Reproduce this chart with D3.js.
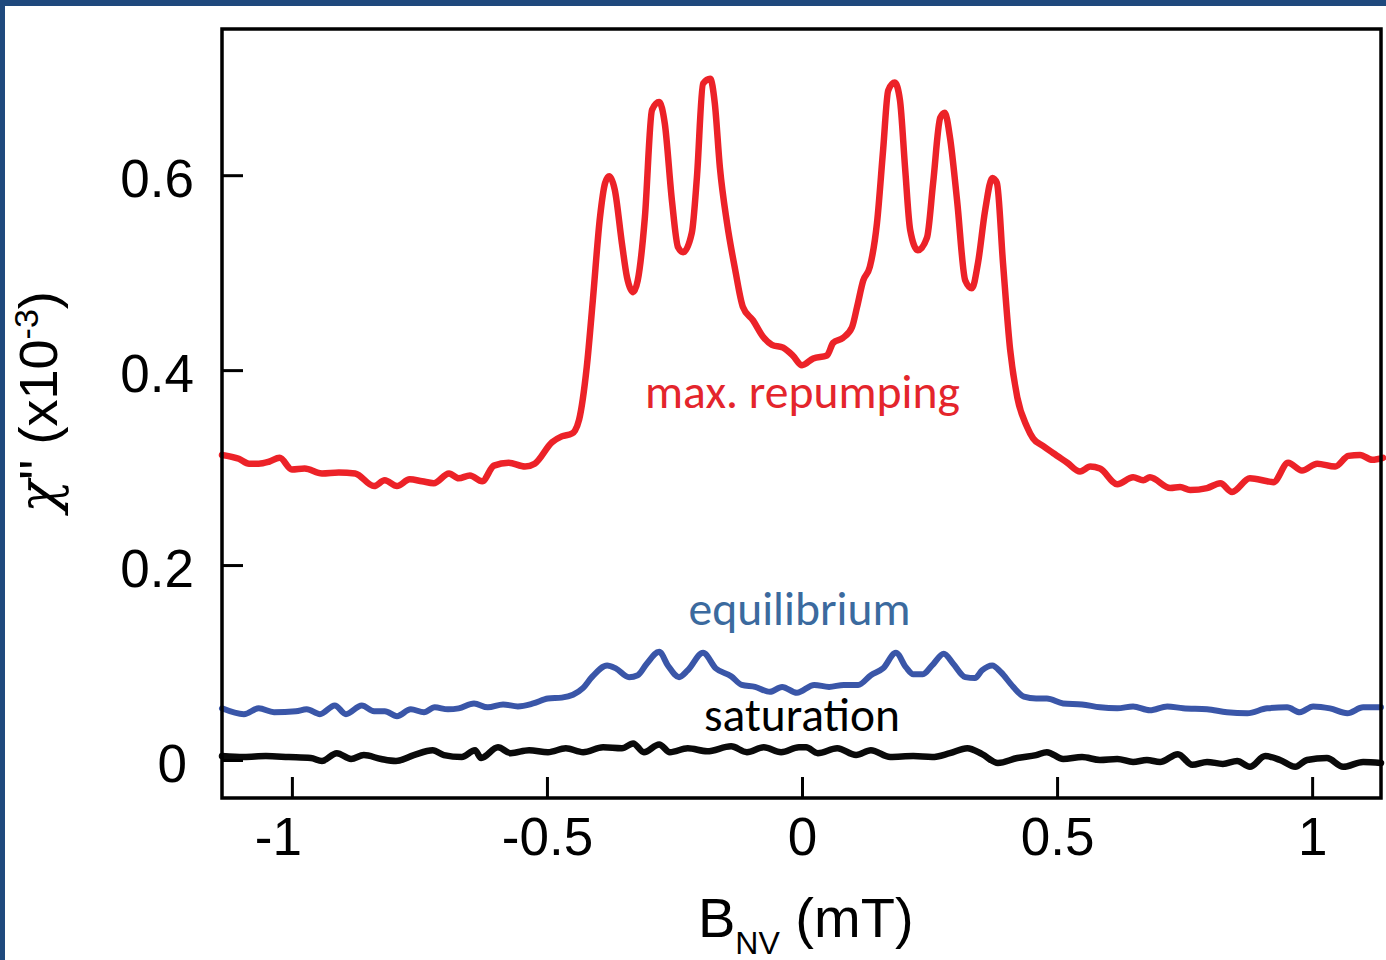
<!DOCTYPE html>
<html><head><meta charset="utf-8">
<script src="https://cdn.jsdelivr.net/npm/d3@7"></script>
<style>html,body{margin:0;padding:0;background:#fff;} svg{display:block}</style>
</head><body>
<svg id="chart" width="1386" height="960"></svg>
<script>
// ---- data (B_NV in mT, chi'' in 1e-3) ----
const redX = [-1.137,-1.104,-1.084,-1.065,-1.045,-1.024,-1.000,-0.975,-0.941,-0.908,-0.876,-0.839,-0.818,-0.794,-0.769,-0.745,-0.722,-0.692,-0.673,-0.651,-0.627,-0.604,-0.575,-0.543,-0.524,-0.490,-0.471,-0.451,-0.445,-0.437,-0.422,-0.410,-0.396,-0.386,-0.378,-0.367,-0.353,-0.343,-0.331,-0.322,-0.308,-0.294,-0.280,-0.269,-0.255,-0.243,-0.233,-0.216,-0.206,-0.194,-0.180,-0.171,-0.161,-0.147,-0.131,-0.116,-0.096,-0.076,-0.059,-0.037,-0.018,0.000,0.022,0.049,0.061,0.080,0.098,0.108,0.120,0.133,0.147,0.159,0.169,0.182,0.192,0.202,0.212,0.227,0.245,0.257,0.271,0.280,0.290,0.304,0.320,0.333,0.345,0.359,0.373,0.382,0.394,0.408,0.422,0.441,0.453,0.473,0.492,0.520,0.545,0.565,0.584,0.618,0.649,0.669,0.682,0.722,0.741,0.761,0.794,0.820,0.843,0.878,0.912,0.924,0.953,0.980,1.010,1.045,1.071,1.094,1.118,1.139];
const redY = [0.313,0.309,0.304,0.304,0.306,0.310,0.298,0.299,0.294,0.295,0.294,0.281,0.287,0.281,0.288,0.286,0.284,0.294,0.289,0.292,0.286,0.302,0.305,0.301,0.304,0.326,0.332,0.335,0.338,0.349,0.403,0.472,0.557,0.592,0.599,0.585,0.530,0.495,0.480,0.492,0.557,0.667,0.675,0.653,0.574,0.526,0.521,0.541,0.598,0.694,0.699,0.674,0.608,0.551,0.503,0.465,0.451,0.434,0.426,0.423,0.415,0.405,0.412,0.415,0.428,0.433,0.444,0.465,0.492,0.506,0.551,0.626,0.687,0.695,0.677,0.608,0.544,0.523,0.536,0.592,0.659,0.664,0.639,0.574,0.492,0.484,0.510,0.564,0.597,0.592,0.510,0.421,0.372,0.342,0.330,0.322,0.315,0.305,0.296,0.301,0.299,0.283,0.290,0.287,0.290,0.279,0.280,0.277,0.279,0.284,0.275,0.289,0.286,0.285,0.305,0.297,0.304,0.301,0.312,0.313,0.308,0.310];

const blueX = [-1.137,-1.094,-1.065,-1.035,-0.992,-0.971,-0.945,-0.916,-0.894,-0.863,-0.839,-0.818,-0.794,-0.767,-0.741,-0.720,-0.694,-0.673,-0.643,-0.616,-0.586,-0.557,-0.527,-0.498,-0.471,-0.449,-0.429,-0.412,-0.382,-0.365,-0.339,-0.322,-0.304,-0.280,-0.263,-0.241,-0.224,-0.194,-0.169,-0.139,-0.118,-0.092,-0.063,-0.039,-0.010,0.024,0.053,0.082,0.110,0.135,0.159,0.184,0.204,0.218,0.237,0.255,0.278,0.296,0.320,0.339,0.353,0.373,0.390,0.414,0.435,0.459,0.480,0.512,0.549,0.584,0.618,0.649,0.682,0.716,0.747,0.794,0.833,0.873,0.912,0.951,0.976,1.002,1.035,1.069,1.100,1.135];
const blueY = [0.053,0.047,0.053,0.049,0.050,0.052,0.047,0.056,0.047,0.056,0.050,0.050,0.045,0.052,0.049,0.054,0.052,0.053,0.058,0.054,0.057,0.055,0.058,0.063,0.064,0.067,0.074,0.085,0.097,0.094,0.085,0.087,0.099,0.111,0.097,0.085,0.092,0.110,0.094,0.086,0.077,0.075,0.070,0.075,0.069,0.077,0.075,0.077,0.077,0.087,0.094,0.110,0.095,0.088,0.088,0.097,0.109,0.099,0.085,0.084,0.092,0.097,0.090,0.075,0.065,0.063,0.063,0.058,0.057,0.054,0.053,0.055,0.051,0.055,0.053,0.052,0.049,0.048,0.053,0.054,0.049,0.055,0.053,0.048,0.054,0.054];

const blackX = [-1.137,-1.094,-1.051,-1.006,-0.963,-0.941,-0.912,-0.884,-0.859,-0.825,-0.796,-0.761,-0.724,-0.702,-0.667,-0.641,-0.629,-0.596,-0.571,-0.535,-0.498,-0.463,-0.429,-0.390,-0.353,-0.331,-0.310,-0.280,-0.259,-0.224,-0.186,-0.139,-0.108,-0.075,-0.041,-0.006,0.008,0.031,0.069,0.106,0.135,0.173,0.218,0.255,0.290,0.324,0.353,0.384,0.422,0.459,0.480,0.512,0.549,0.584,0.618,0.649,0.676,0.702,0.737,0.765,0.794,0.825,0.853,0.878,0.908,0.937,0.967,0.990,1.029,1.061,1.100,1.135];
const blackY = [0.004,0.003,0.004,0.003,0.002,-0.001,0.007,0.001,0.005,0.001,-0.001,0.005,0.010,0.005,0.003,0.010,0.002,0.013,0.007,0.010,0.008,0.012,0.008,0.013,0.012,0.017,0.008,0.016,0.008,0.012,0.009,0.014,0.008,0.013,0.008,0.013,0.013,0.007,0.012,0.005,0.010,0.003,0.004,0.003,0.007,0.012,0.006,-0.003,0.002,0.005,0.008,0.001,0.003,0.000,0.001,-0.002,0.000,-0.002,0.006,-0.005,-0.002,-0.004,-0.001,-0.007,0.004,0.000,-0.007,0.000,0.002,-0.007,-0.002,-0.003];

const xTickValues = [-1, -0.5, 0, 0.5, 1];
const xTickLabels = ["-1", "-0.5", "0", "0.5", "1"];
const yTickValues = [0, 0.2, 0.4, 0.6];
const yTickLabels = ["0", "0.2", "0.4", "0.6"];
const seriesNames = ["max. repumping", "equilibrium", "saturation"];

// ---- layout ----
const W = 1386, H = 960;
const m = {left: 222, top: 29, right: 5, bottom: 162};
const svg = d3.select("#chart");

// frame decoration (blue border)
svg.append("rect").attr("x",0).attr("y",0).attr("width",W).attr("height",6).attr("fill","#1F497D");
svg.append("rect").attr("x",0).attr("y",0).attr("width",5).attr("height",H).attr("fill","#1F497D");

const x = d3.scaleLinear().domain([-1.137, 1.135]).range([m.left, W - m.right]);
const y = d3.scaleLinear().domain([-0.039, 0.75]).range([H - m.bottom, m.top]);

const axisFont = "'Liberation Sans', Arial, sans-serif";
const annFont = "Carlito, Calibri, Lato, 'Open Sans', sans-serif";

// lines
const line = d3.line().x(d => x(d[0])).y(d => y(d[1])).curve(d3.curveMonotoneX);
const series = [
  {xs: blackX, ys: blackY, color: "#0a0a0a", w: 6.5},
  {xs: blueX, ys: blueY, color: "#3A56A8", w: 6},
  {xs: redX, ys: redY, color: "#EC2228", w: 6.5}
];
series.forEach(s => {
  const pts = s.xs.map((v, i) => [v, s.ys[i]]);
  svg.append("path").datum(pts).attr("d", line)
    .attr("fill", "none").attr("stroke", s.color).attr("stroke-width", s.w)
    .attr("stroke-linejoin", "round").attr("stroke-linecap", "round");
});

// axes frame
const g = svg.append("g");
g.append("rect").attr("x", x.range()[0]).attr("y", y.range()[1])
  .attr("width", x.range()[1] - x.range()[0]).attr("height", y.range()[0] - y.range()[1])
  .attr("fill", "none").attr("stroke", "#000").attr("stroke-width", 3.5);

// bottom axis
const xAxis = d3.axisBottom(x).tickValues(xTickValues).tickSizeInner(-21).tickSizeOuter(0)
  .tickFormat((d, i) => xTickLabels[i]);
const gx = svg.append("g").attr("transform", `translate(0,${y.range()[0]})`).call(xAxis);
gx.select(".domain").remove();
gx.selectAll(".tick line").attr("stroke", "#000").attr("stroke-width", 3);
gx.selectAll(".tick text").attr("font-family", axisFont).attr("font-size", 53).attr("fill", "#000")
  .attr("y", 57).attr("dy", 0)
  .attr("dx", d => d === -1 ? -14 : 0);

// left axis
const yAxis = d3.axisLeft(y).tickValues(yTickValues).tickSizeInner(-21).tickSizeOuter(0)
  .tickFormat((d, i) => yTickLabels[i]);
const gy = svg.append("g").attr("transform", `translate(${x.range()[0]},0)`).call(yAxis);
gy.select(".domain").remove();
gy.selectAll(".tick line").attr("stroke", "#000").attr("stroke-width", 3);
gy.selectAll(".tick text").attr("font-family", axisFont).attr("font-size", 53).attr("fill", "#000")
  .attr("x", -28).attr("dy", "0.41em")
  .attr("dx", d => d === 0 ? -7 : 0);

// axis titles
const xt = svg.append("text").attr("x", 698).attr("y", 937)
  .attr("font-family", axisFont).attr("font-size", 56).attr("fill", "#000");
xt.append("tspan").text("B");
xt.append("tspan").attr("font-size", 32).attr("dy", 17).text("NV");
xt.append("tspan").attr("dy", -17).text(" (mT)");

const yt = svg.append("text").attr("transform", "translate(57,402) rotate(-90)")
  .attr("text-anchor", "middle")
  .attr("font-family", axisFont).attr("font-size", 54).attr("fill", "#000");
yt.append("tspan").attr("font-family", "'DejaVu Serif', serif").attr("font-style", "italic").text("\u03C7");
yt.append("tspan").text("'' (x10");
yt.append("tspan").attr("font-size", 34).attr("dy", -19).text("-3");
yt.append("tspan").attr("dy", 19).text(")");

// annotations
const anns = [
  {t: seriesNames[0], cx: 0.001, cy: 0.361, color: "#E4252C", w: 315},
  {t: seriesNames[1], cx: -0.005, cy: 0.138, color: "#3B6A9E", w: 222},
  {t: seriesNames[2], cx: 0.0, cy: 0.030, color: "#000000", w: 196}
];
anns.forEach(a => {
  const t = svg.append("text").attr("x", x(a.cx)).attr("y", y(a.cy))
    .attr("text-anchor", "middle").attr("font-family", annFont)
    .attr("font-size", 46).attr("fill", a.color).text(a.t);
  const len = t.node().getComputedTextLength();
  if (len > 0) t.attr("font-size", 46 * a.w / len);
});
</script>
</body></html>
